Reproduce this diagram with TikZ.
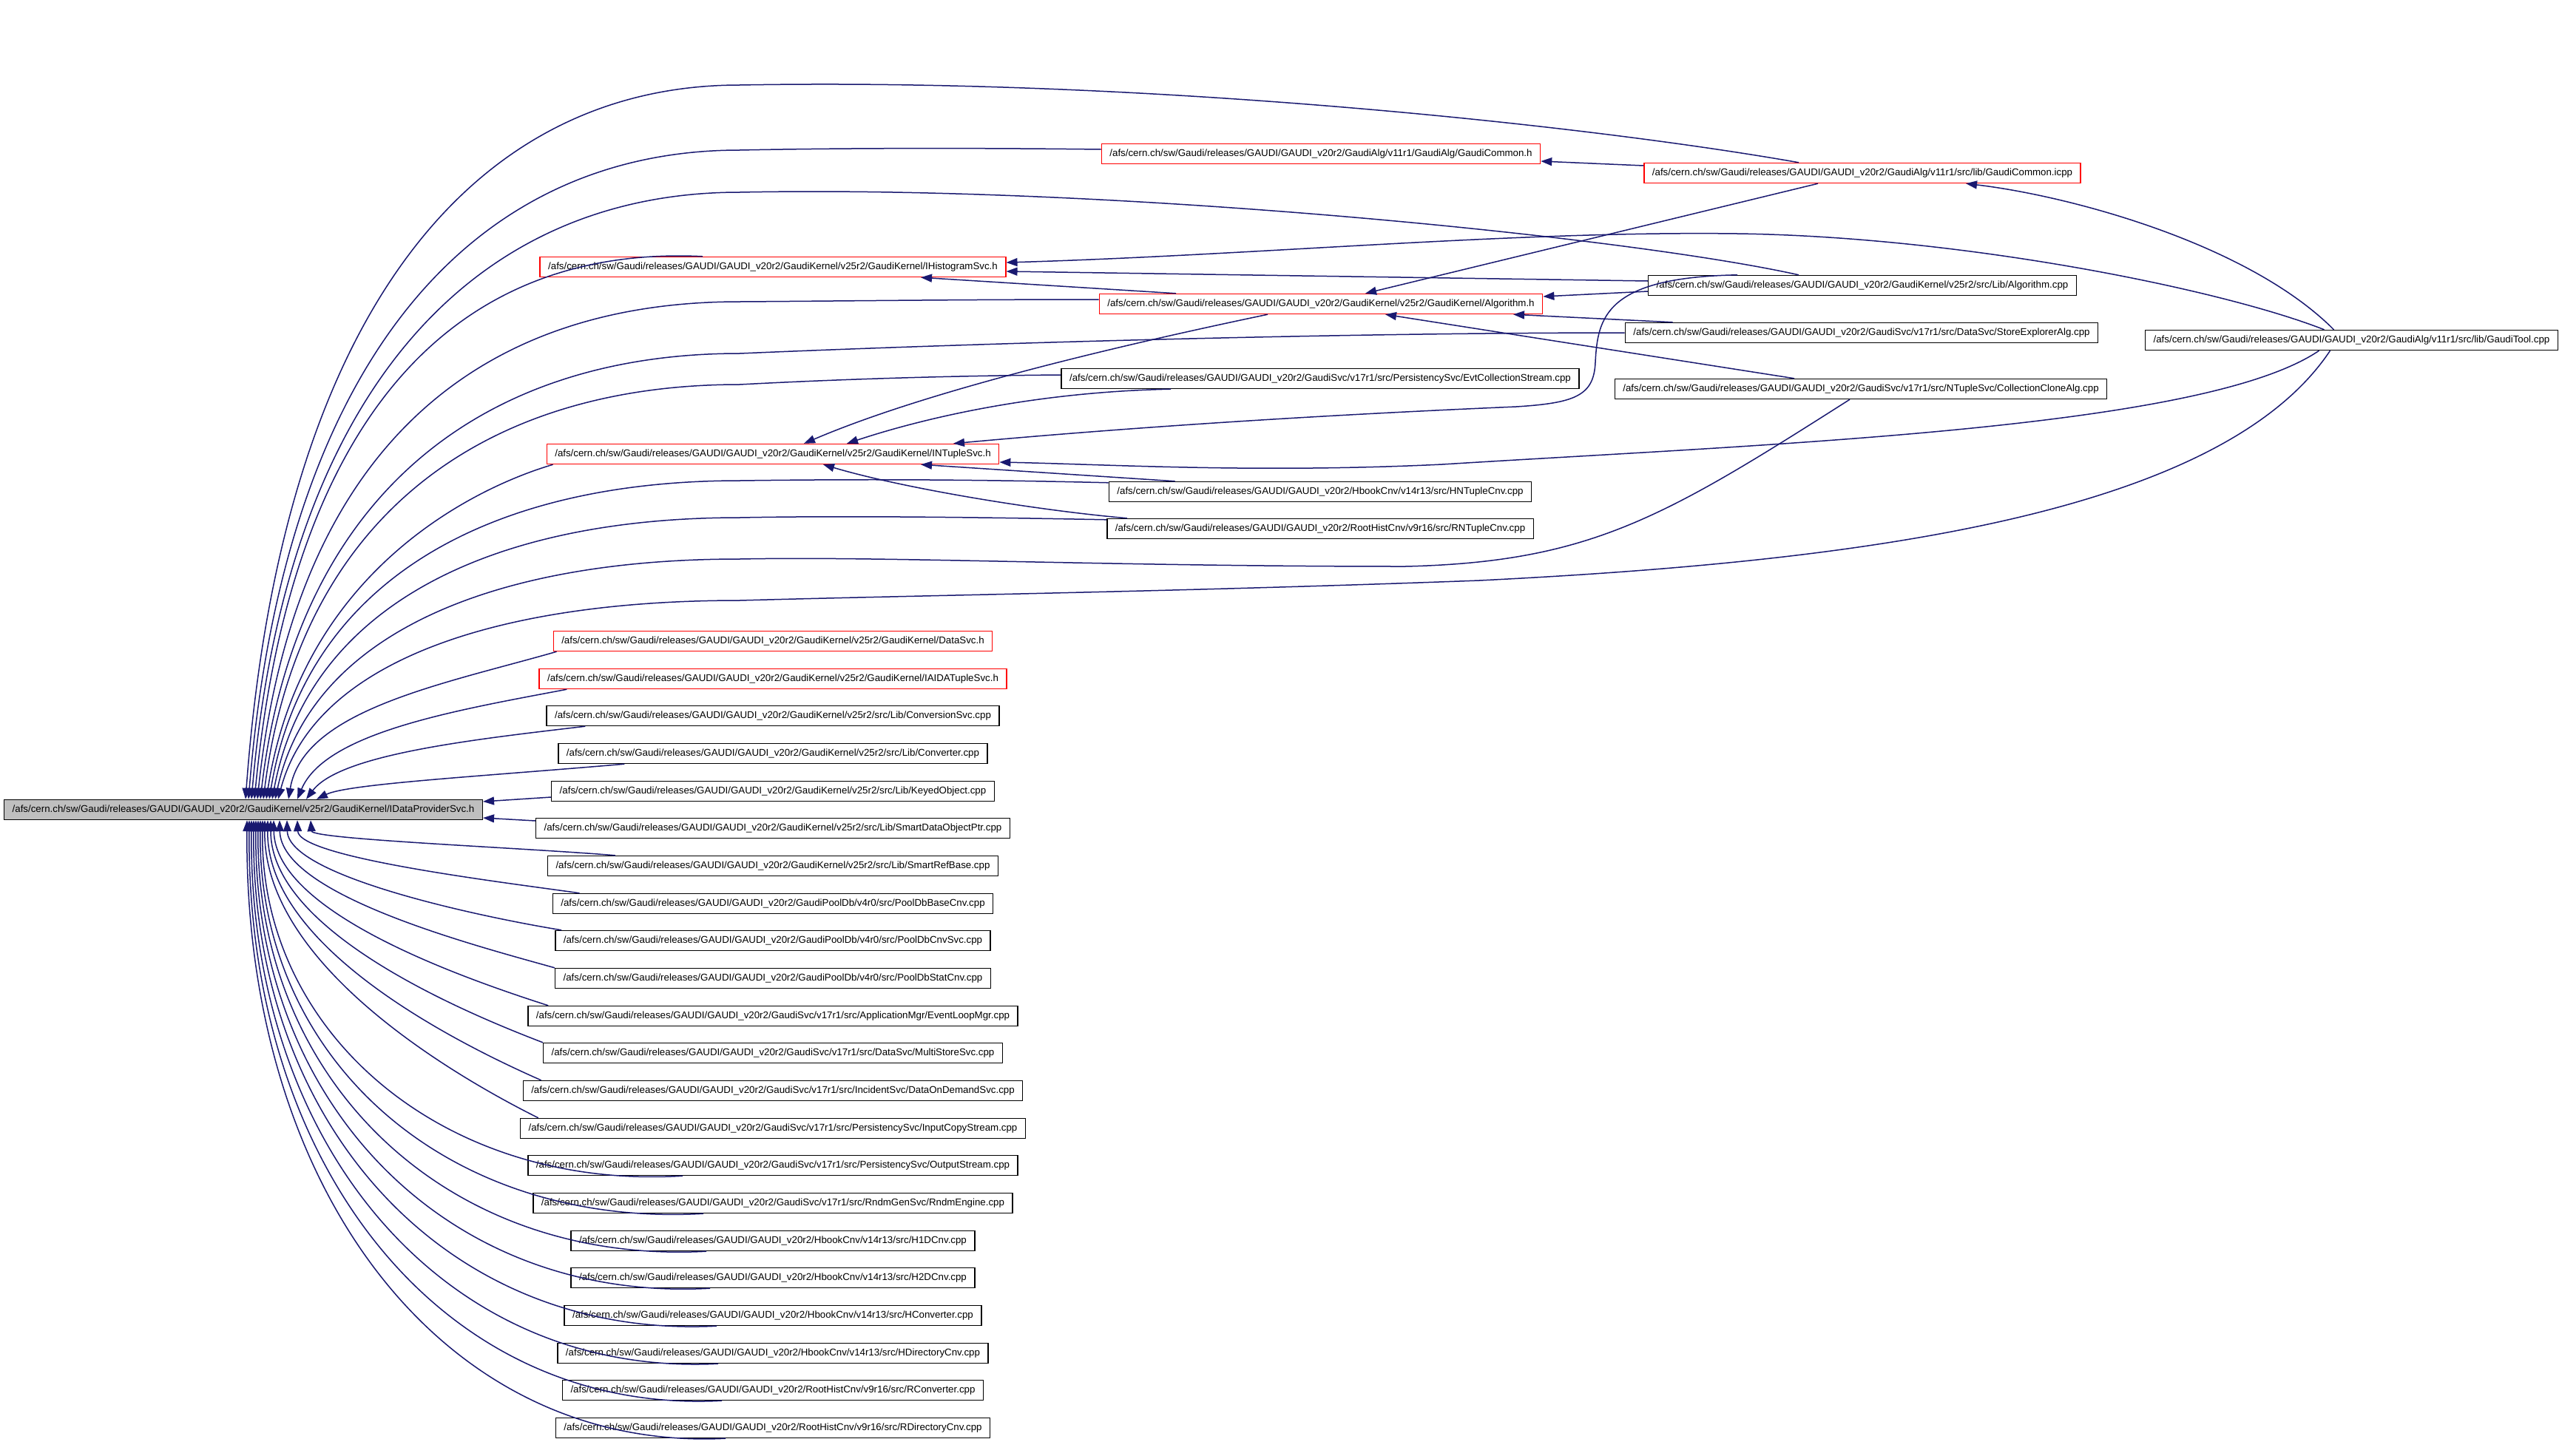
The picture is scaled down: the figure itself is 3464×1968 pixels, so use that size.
\documentclass[tikz,border=0pt]{standalone}
\usepackage{fontspec}
\setmainfont{Liberation Sans}
\usetikzlibrary{arrows.meta}
\definecolor{edgeblue}{RGB}{25,25,112}

\begin{document}
\begin{tikzpicture}[
    x=1pt, y=-1pt,
    file/.style={draw=black, fill=white, line width=1.4pt, rectangle,
      minimum height=27pt, inner xsep=11pt, inner ysep=0pt,
      font=\fontsize{13.3}{16}\selectfont},
    trunc/.style={file, draw=red},
    root/.style={file, fill=black!25},
    dep/.style={draw=edgeblue, line width=1.5pt, -{Triangle[length=15pt,width=11pt]}}
  ]
  \useasboundingbox (0,0) rectangle (3464,1968);

  % the header and the files that include it
  \node[root, anchor=west] (dps) at (5,1095) {/afs/cern.ch/sw/Gaudi/releases/GAUDI/GAUDI\_v20r2/GaudiKernel/v25r2/GaudiKernel/IDataProviderSvc.h};

  \node[trunc] (gch) at (1786,208) {/afs/cern.ch/sw/Gaudi/releases/GAUDI/GAUDI\_v20r2/GaudiAlg/v11r1/GaudiAlg/GaudiCommon.h};
  \node[trunc] (gci) at (2518,234) {/afs/cern.ch/sw/Gaudi/releases/GAUDI/GAUDI\_v20r2/GaudiAlg/v11r1/src/lib/GaudiCommon.icpp};
  \node[trunc] (ihs) at (1045,361) {/afs/cern.ch/sw/Gaudi/releases/GAUDI/GAUDI\_v20r2/GaudiKernel/v25r2/GaudiKernel/IHistogramSvc.h};
  \node[file] (algcpp) at (2518,386) {/afs/cern.ch/sw/Gaudi/releases/GAUDI/GAUDI\_v20r2/GaudiKernel/v25r2/src/Lib/Algorithm.cpp};
  \node[trunc] (algh) at (1786,411) {/afs/cern.ch/sw/Gaudi/releases/GAUDI/GAUDI\_v20r2/GaudiKernel/v25r2/GaudiKernel/Algorithm.h};
  \node[file] (sea) at (2517,450) {/afs/cern.ch/sw/Gaudi/releases/GAUDI/GAUDI\_v20r2/GaudiSvc/v17r1/src/DataSvc/StoreExplorerAlg.cpp};
  \node[file, anchor=east] (gt) at (3459,460) {/afs/cern.ch/sw/Gaudi/releases/GAUDI/GAUDI\_v20r2/GaudiAlg/v11r1/src/lib/GaudiTool.cpp};
  \node[file] (ecs) at (1785,512) {/afs/cern.ch/sw/Gaudi/releases/GAUDI/GAUDI\_v20r2/GaudiSvc/v17r1/src/PersistencySvc/EvtCollectionStream.cpp};
  \node[file] (cca) at (2516,526) {/afs/cern.ch/sw/Gaudi/releases/GAUDI/GAUDI\_v20r2/GaudiSvc/v17r1/src/NTupleSvc/CollectionCloneAlg.cpp};
  \node[trunc] (nts) at (1045,614) {/afs/cern.ch/sw/Gaudi/releases/GAUDI/GAUDI\_v20r2/GaudiKernel/v25r2/GaudiKernel/INTupleSvc.h};
  \node[file] (hnt) at (1785,665) {/afs/cern.ch/sw/Gaudi/releases/GAUDI/GAUDI\_v20r2/HbookCnv/v14r13/src/HNTupleCnv.cpp};
  \node[file] (rnt) at (1785,715) {/afs/cern.ch/sw/Gaudi/releases/GAUDI/GAUDI\_v20r2/RootHistCnv/v9r16/src/RNTupleCnv.cpp};

  \node[trunc] (datasvc) at (1045,867) {/afs/cern.ch/sw/Gaudi/releases/GAUDI/GAUDI\_v20r2/GaudiKernel/v25r2/GaudiKernel/DataSvc.h};
  \node[trunc] (aidatuple) at (1045,918) {/afs/cern.ch/sw/Gaudi/releases/GAUDI/GAUDI\_v20r2/GaudiKernel/v25r2/GaudiKernel/IAIDATupleSvc.h};
  \node[file] (convsvc) at (1045,968) {/afs/cern.ch/sw/Gaudi/releases/GAUDI/GAUDI\_v20r2/GaudiKernel/v25r2/src/Lib/ConversionSvc.cpp};
  \node[file] (converter) at (1045,1019) {/afs/cern.ch/sw/Gaudi/releases/GAUDI/GAUDI\_v20r2/GaudiKernel/v25r2/src/Lib/Converter.cpp};
  \node[file] (keyedobj) at (1045,1070) {/afs/cern.ch/sw/Gaudi/releases/GAUDI/GAUDI\_v20r2/GaudiKernel/v25r2/src/Lib/KeyedObject.cpp};
  \node[file] (smartptr) at (1045,1120) {/afs/cern.ch/sw/Gaudi/releases/GAUDI/GAUDI\_v20r2/GaudiKernel/v25r2/src/Lib/SmartDataObjectPtr.cpp};
  \node[file] (smartref) at (1045,1171) {/afs/cern.ch/sw/Gaudi/releases/GAUDI/GAUDI\_v20r2/GaudiKernel/v25r2/src/Lib/SmartRefBase.cpp};
  \node[file] (poolbase) at (1045,1222) {/afs/cern.ch/sw/Gaudi/releases/GAUDI/GAUDI\_v20r2/GaudiPoolDb/v4r0/src/PoolDbBaseCnv.cpp};
  \node[file] (poolsvc) at (1045,1272) {/afs/cern.ch/sw/Gaudi/releases/GAUDI/GAUDI\_v20r2/GaudiPoolDb/v4r0/src/PoolDbCnvSvc.cpp};
  \node[file] (poolstat) at (1045,1323) {/afs/cern.ch/sw/Gaudi/releases/GAUDI/GAUDI\_v20r2/GaudiPoolDb/v4r0/src/PoolDbStatCnv.cpp};
  \node[file] (evtloop) at (1045,1374) {/afs/cern.ch/sw/Gaudi/releases/GAUDI/GAUDI\_v20r2/GaudiSvc/v17r1/src/ApplicationMgr/EventLoopMgr.cpp};
  \node[file] (multistore) at (1045,1424) {/afs/cern.ch/sw/Gaudi/releases/GAUDI/GAUDI\_v20r2/GaudiSvc/v17r1/src/DataSvc/MultiStoreSvc.cpp};
  \node[file] (ondemand) at (1045,1475) {/afs/cern.ch/sw/Gaudi/releases/GAUDI/GAUDI\_v20r2/GaudiSvc/v17r1/src/IncidentSvc/DataOnDemandSvc.cpp};
  \node[file] (inputcopy) at (1045,1526) {/afs/cern.ch/sw/Gaudi/releases/GAUDI/GAUDI\_v20r2/GaudiSvc/v17r1/src/PersistencySvc/InputCopyStream.cpp};
  \node[file] (outstream) at (1045,1576) {/afs/cern.ch/sw/Gaudi/releases/GAUDI/GAUDI\_v20r2/GaudiSvc/v17r1/src/PersistencySvc/OutputStream.cpp};
  \node[file] (rndm) at (1045,1627) {/afs/cern.ch/sw/Gaudi/releases/GAUDI/GAUDI\_v20r2/GaudiSvc/v17r1/src/RndmGenSvc/RndmEngine.cpp};
  \node[file] (h1d) at (1045,1678) {/afs/cern.ch/sw/Gaudi/releases/GAUDI/GAUDI\_v20r2/HbookCnv/v14r13/src/H1DCnv.cpp};
  \node[file] (h2d) at (1045,1728) {/afs/cern.ch/sw/Gaudi/releases/GAUDI/GAUDI\_v20r2/HbookCnv/v14r13/src/H2DCnv.cpp};
  \node[file] (hconv) at (1045,1779) {/afs/cern.ch/sw/Gaudi/releases/GAUDI/GAUDI\_v20r2/HbookCnv/v14r13/src/HConverter.cpp};
  \node[file] (hdir) at (1045,1830) {/afs/cern.ch/sw/Gaudi/releases/GAUDI/GAUDI\_v20r2/HbookCnv/v14r13/src/HDirectoryCnv.cpp};
  \node[file] (rconv) at (1045,1880) {/afs/cern.ch/sw/Gaudi/releases/GAUDI/GAUDI\_v20r2/RootHistCnv/v9r16/src/RConverter.cpp};
  \node[file] (rdir) at (1045,1931) {/afs/cern.ch/sw/Gaudi/releases/GAUDI/GAUDI\_v20r2/RootHistCnv/v9r16/src/RDirectoryCnv.cpp};

  % includes between the upper files
  \draw[dep] ([yshift=10pt]gci.west) -- ([yshift=-10pt]gch.east);
  \draw[dep] ([xshift=-60pt]gci.south) -- ([xshift=60pt]algh.north);
  \draw[dep] ([xshift=-24pt]gt.north) .. controls (3040,330) and (2800,265) .. ([xshift=140pt]gci.south);
  \draw[dep] ([xshift=-37pt]gt.north) .. controls (3000,390) and (2650,320) .. (2349,316)
    .. controls (2050,312) and (1700,345) .. ([yshift=6pt]ihs.east);
  \draw[dep] ([yshift=6pt]algcpp.west) -- ([yshift=-6pt]ihs.east);
  \draw[dep] ([xshift=-196pt]algh.north) -- ([xshift=200pt]ihs.south);
  \draw[dep] ([yshift=-8pt]algcpp.west) -- ([yshift=10pt]algh.east);
  \draw[dep] ([xshift=65pt]sea.north west) -- ([xshift=260pt]algh.south);
  \draw[dep] ([xshift=-90pt]cca.north) -- ([xshift=87pt]algh.south);
  \draw[dep] ([xshift=-169pt]algcpp.north) .. controls (2170,375) and (2160,430) .. (2157,490)
    .. controls (2155,535) and (2130,545) .. (2050,550)
    .. controls (1700,565) and (1450,585) .. ([xshift=244pt]nts.north);
  \draw[dep] ([xshift=-44pt]gt.south) .. controls (2980,580) and (2400,600) .. (1950,628)
    .. controls (1700,640) and (1500,628) .. ([yshift=-11pt]nts.east);
  \draw[dep] ([xshift=-72pt]algh.south) .. controls (1500,470) and (1250,530) .. ([xshift=42pt]nts.north);
  \draw[dep] ([xshift=-202pt]ecs.south) .. controls (1400,530) and (1250,565) .. ([xshift=100pt]nts.north);
  \draw[dep] ([xshift=90pt]hnt.north west) -- ([xshift=200pt]nts.south);
  \draw[dep] ([xshift=28pt]rnt.north west) .. controls (1400,690) and (1220,660) .. ([xshift=68pt]nts.south);

  % fan into the top of IDataProviderSvc.h
  \draw[dep] ([xshift=-86pt]gci.north) .. controls (2150,170) and (1550,105) .. (1000,115)
    .. controls (639,115) and (380,424) .. ([xshift=327pt]dps.north west);
  \draw[dep] ([yshift=6pt]gch.west) .. controls (1320,200) and (1150,200) .. (1000,203)
    .. controls (641,203) and (384,484) .. ([xshift=331pt]dps.north west);
  \draw[dep] ([xshift=-86pt]algcpp.north) .. controls (2200,320) and (1500,250) .. (1000,260)
    .. controls (644,260) and (388,523) .. ([xshift=335pt]dps.north west);
  \draw[dep] ([xshift=-95pt]ihs.north) .. controls (600,330) and (392,582) .. ([xshift=339pt]dps.north west);
  \draw[dep] ([yshift=6pt]algh.west) .. controls (1300,405) and (1150,407) .. (1000,408)
    .. controls (630,408) and (396,624) .. ([xshift=343pt]dps.north west);
  \draw[dep] (sea.west) .. controls (1800,450) and (1300,465) .. (1000,478)
    .. controls (650,478) and (400,671) .. ([xshift=347pt]dps.north west);
  \draw[dep] ([yshift=5pt]ecs.west) .. controls (1300,508) and (1150,512) .. (1000,520)
    .. controls (652,520) and (404,700) .. ([xshift=351pt]dps.north west);
  \draw[dep] ([xshift=9pt]nts.south west) .. controls (640,660) and (408,773) .. ([xshift=355pt]dps.north west);
  \draw[dep] ([yshift=-2pt]hnt.north west) .. controls (1300,648) and (1150,648) .. (1000,650)
    .. controls (657,650) and (412,788) .. ([xshift=359pt]dps.north west);
  \draw[dep] ([yshift=-2pt]rnt.north west) .. controls (1350,700) and (1150,697) .. (1000,700)
    .. controls (659,700) and (416,822) .. ([xshift=363pt]dps.north west);
  \draw[dep] ([xshift=-15pt]cca.south) .. controls (2250,700) and (2150,760) .. (1900,766)
    .. controls (1500,766) and (1200,752) .. (1000,756)
    .. controls (661,756) and (420,860) .. ([xshift=367pt]dps.north west);
  \draw[dep] ([xshift=-29pt]gt.south) .. controls (3000,700) and (2500,760) .. (2000,785)
    .. controls (1600,800) and (1250,805) .. (1000,812)
    .. controls (663,812) and (424,898) .. ([xshift=371pt]dps.north west);
  \draw[dep] ([xshift=5pt]datasvc.south west) .. controls (600,925) and (410,960) .. ([xshift=385pt]dps.north west);
  \draw[dep] ([xshift=38pt]aidatuple.south west) .. controls (620,960) and (440,990) .. ([xshift=397pt]dps.north west);
  \draw[dep] ([xshift=53pt]convsvc.south west) .. controls (640,1000) and (460,1020) .. ([xshift=409pt]dps.north west);
  \draw[dep] ([xshift=90pt]converter.south west) .. controls (650,1050) and (470,1060) .. ([xshift=423pt]dps.north west);

  % into the right side
  \draw[dep] ([yshift=-8pt]keyedobj.west) -- ([yshift=11pt]dps.east);
  \draw[dep] ([yshift=10pt]smartptr.west) -- ([yshift=-11pt]dps.east);

  % fan into the bottom
  \draw[dep] ([xshift=92pt]smartref.north west) .. controls (700,1146) and (422,1135) .. ([xshift=415pt]dps.south west);
  \draw[dep] ([xshift=37pt]poolbase.north west) .. controls (680,1193) and (404,1160) .. ([xshift=397pt]dps.south west);
  \draw[dep] ([xshift=9pt]poolsvc.north west) .. controls (650,1240) and (390,1185) .. ([xshift=383pt]dps.south west);
  \draw[dep] (poolstat.north west) .. controls (640,1278) and (380,1210) .. ([xshift=373pt]dps.south west);
  \draw[dep] ([xshift=28pt]evtloop.north west) .. controls (630,1324) and (372,1235) .. ([xshift=365pt]dps.south west);
  \draw[dep] (multistore.north west) .. controls (630,1370) and (366,1260) .. ([xshift=361pt]dps.south west);
  \draw[dep] ([xshift=25pt]ondemand.north west) .. controls (630,1416) and (360,1285) .. ([xshift=357pt]dps.south west);
  \draw[dep] ([xshift=25pt]inputcopy.north west) .. controls (630,1463) and (356,1310) .. ([xshift=353pt]dps.south west);
  \draw[dep] ([xshift=-122pt]outstream.south) .. controls (600,1610) and (351,1397) .. ([xshift=350pt]dps.south west);
  \draw[dep] ([xshift=-94pt]rndm.south) .. controls (600,1661) and (348,1428) .. ([xshift=347pt]dps.south west);
  \draw[dep] ([xshift=-90pt]h1d.south) .. controls (600,1711) and (345,1458) .. ([xshift=344pt]dps.south west);
  \draw[dep] ([xshift=-85pt]h2d.south) .. controls (600,1762) and (342,1488) .. ([xshift=341pt]dps.south west);
  \draw[dep] ([xshift=-76pt]hconv.south) .. controls (600,1812) and (339,1518) .. ([xshift=338pt]dps.south west);
  \draw[dep] ([xshift=-74pt]hdir.south) .. controls (600,1863) and (336,1549) .. ([xshift=335pt]dps.south west);
  \draw[dep] ([xshift=-69pt]rconv.south) .. controls (600,1914) and (333,1580) .. ([xshift=332pt]dps.south west);
  \draw[dep] ([xshift=-64pt]rdir.south) .. controls (600,1964) and (330,1610) .. ([xshift=329pt]dps.south west);
\end{tikzpicture}
\end{document}
